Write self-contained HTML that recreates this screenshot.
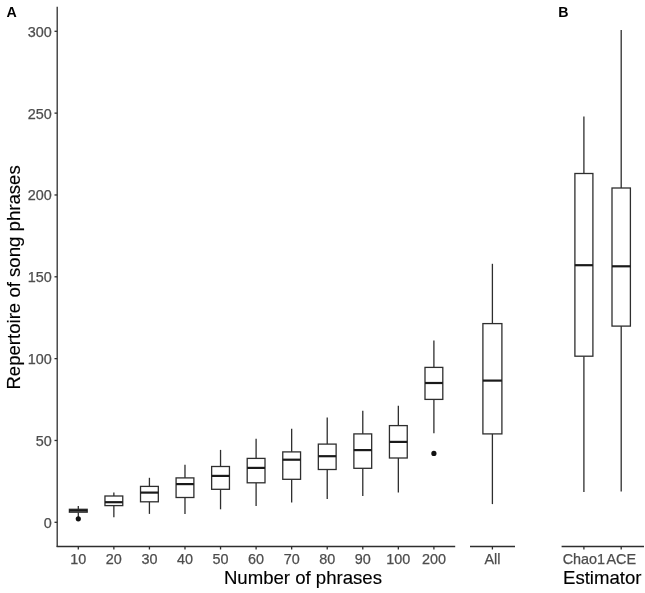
<!DOCTYPE html>
<html><head><meta charset="utf-8"><style>
html,body{margin:0;padding:0;background:#fff;width:645px;height:593px;overflow:hidden}
svg{display:block;will-change:transform}
text{font-family:"Liberation Sans",sans-serif}
.tk{font-size:14.4px;fill:#4d4d4d;stroke:#4d4d4d;stroke-width:0.25px}
.ti{font-size:18.6px;fill:#000;stroke:#000;stroke-width:0.15px}
.tag{font-size:14.2px;font-weight:bold;fill:#000}
</style></head><body>
<svg width="645" height="593" viewBox="0 0 645 593">
<rect width="645" height="593" fill="#fff"/>
<line x1="78.30" y1="506.00" x2="78.30" y2="509.30" stroke="#2e2e2e" stroke-width="1.3" stroke-linecap="butt"/>
<line x1="78.30" y1="512.20" x2="78.30" y2="517.00" stroke="#2e2e2e" stroke-width="1.3" stroke-linecap="butt"/>
<rect x="69.40" y="509.30" width="17.80" height="2.90" fill="#fff" stroke="#2e2e2e" stroke-width="1.3"/>
<line x1="69.40" y1="510.60" x2="87.20" y2="510.60" stroke="#1a1a1a" stroke-width="2.2" stroke-linecap="butt"/>
<circle cx="78.30" cy="518.80" r="2.6" fill="#111"/>
<line x1="113.86" y1="492.50" x2="113.86" y2="496.00" stroke="#2e2e2e" stroke-width="1.3" stroke-linecap="butt"/>
<line x1="113.86" y1="505.60" x2="113.86" y2="517.30" stroke="#2e2e2e" stroke-width="1.3" stroke-linecap="butt"/>
<rect x="104.96" y="496.00" width="17.80" height="9.60" fill="#fff" stroke="#2e2e2e" stroke-width="1.3"/>
<line x1="104.96" y1="502.20" x2="122.76" y2="502.20" stroke="#1a1a1a" stroke-width="2.2" stroke-linecap="butt"/>
<line x1="149.42" y1="477.80" x2="149.42" y2="486.40" stroke="#2e2e2e" stroke-width="1.3" stroke-linecap="butt"/>
<line x1="149.42" y1="501.80" x2="149.42" y2="513.90" stroke="#2e2e2e" stroke-width="1.3" stroke-linecap="butt"/>
<rect x="140.52" y="486.40" width="17.80" height="15.40" fill="#fff" stroke="#2e2e2e" stroke-width="1.3"/>
<line x1="140.52" y1="492.60" x2="158.32" y2="492.60" stroke="#1a1a1a" stroke-width="2.2" stroke-linecap="butt"/>
<line x1="184.98" y1="464.70" x2="184.98" y2="477.90" stroke="#2e2e2e" stroke-width="1.3" stroke-linecap="butt"/>
<line x1="184.98" y1="497.50" x2="184.98" y2="514.00" stroke="#2e2e2e" stroke-width="1.3" stroke-linecap="butt"/>
<rect x="176.08" y="477.90" width="17.80" height="19.60" fill="#fff" stroke="#2e2e2e" stroke-width="1.3"/>
<line x1="176.08" y1="484.10" x2="193.88" y2="484.10" stroke="#1a1a1a" stroke-width="2.2" stroke-linecap="butt"/>
<line x1="220.54" y1="449.90" x2="220.54" y2="466.50" stroke="#2e2e2e" stroke-width="1.3" stroke-linecap="butt"/>
<line x1="220.54" y1="489.30" x2="220.54" y2="509.30" stroke="#2e2e2e" stroke-width="1.3" stroke-linecap="butt"/>
<rect x="211.64" y="466.50" width="17.80" height="22.80" fill="#fff" stroke="#2e2e2e" stroke-width="1.3"/>
<line x1="211.64" y1="475.90" x2="229.44" y2="475.90" stroke="#1a1a1a" stroke-width="2.2" stroke-linecap="butt"/>
<line x1="256.10" y1="438.80" x2="256.10" y2="458.40" stroke="#2e2e2e" stroke-width="1.3" stroke-linecap="butt"/>
<line x1="256.10" y1="482.80" x2="256.10" y2="505.90" stroke="#2e2e2e" stroke-width="1.3" stroke-linecap="butt"/>
<rect x="247.20" y="458.40" width="17.80" height="24.40" fill="#fff" stroke="#2e2e2e" stroke-width="1.3"/>
<line x1="247.20" y1="467.90" x2="265.00" y2="467.90" stroke="#1a1a1a" stroke-width="2.2" stroke-linecap="butt"/>
<line x1="291.66" y1="428.80" x2="291.66" y2="451.90" stroke="#2e2e2e" stroke-width="1.3" stroke-linecap="butt"/>
<line x1="291.66" y1="479.30" x2="291.66" y2="502.40" stroke="#2e2e2e" stroke-width="1.3" stroke-linecap="butt"/>
<rect x="282.76" y="451.90" width="17.80" height="27.40" fill="#fff" stroke="#2e2e2e" stroke-width="1.3"/>
<line x1="282.76" y1="459.70" x2="300.56" y2="459.70" stroke="#1a1a1a" stroke-width="2.2" stroke-linecap="butt"/>
<line x1="327.22" y1="417.60" x2="327.22" y2="444.10" stroke="#2e2e2e" stroke-width="1.3" stroke-linecap="butt"/>
<line x1="327.22" y1="469.50" x2="327.22" y2="498.90" stroke="#2e2e2e" stroke-width="1.3" stroke-linecap="butt"/>
<rect x="318.32" y="444.10" width="17.80" height="25.40" fill="#fff" stroke="#2e2e2e" stroke-width="1.3"/>
<line x1="318.32" y1="456.20" x2="336.12" y2="456.20" stroke="#1a1a1a" stroke-width="2.2" stroke-linecap="butt"/>
<line x1="362.78" y1="410.80" x2="362.78" y2="433.90" stroke="#2e2e2e" stroke-width="1.3" stroke-linecap="butt"/>
<line x1="362.78" y1="468.30" x2="362.78" y2="496.10" stroke="#2e2e2e" stroke-width="1.3" stroke-linecap="butt"/>
<rect x="353.88" y="433.90" width="17.80" height="34.40" fill="#fff" stroke="#2e2e2e" stroke-width="1.3"/>
<line x1="353.88" y1="450.10" x2="371.68" y2="450.10" stroke="#1a1a1a" stroke-width="2.2" stroke-linecap="butt"/>
<line x1="398.34" y1="405.80" x2="398.34" y2="425.60" stroke="#2e2e2e" stroke-width="1.3" stroke-linecap="butt"/>
<line x1="398.34" y1="458.00" x2="398.34" y2="492.40" stroke="#2e2e2e" stroke-width="1.3" stroke-linecap="butt"/>
<rect x="389.44" y="425.60" width="17.80" height="32.40" fill="#fff" stroke="#2e2e2e" stroke-width="1.3"/>
<line x1="389.44" y1="441.90" x2="407.24" y2="441.90" stroke="#1a1a1a" stroke-width="2.2" stroke-linecap="butt"/>
<line x1="433.90" y1="340.40" x2="433.90" y2="367.40" stroke="#2e2e2e" stroke-width="1.3" stroke-linecap="butt"/>
<line x1="433.90" y1="399.40" x2="433.90" y2="433.30" stroke="#2e2e2e" stroke-width="1.3" stroke-linecap="butt"/>
<rect x="425.00" y="367.40" width="17.80" height="32.00" fill="#fff" stroke="#2e2e2e" stroke-width="1.3"/>
<line x1="425.00" y1="383.00" x2="442.80" y2="383.00" stroke="#1a1a1a" stroke-width="2.2" stroke-linecap="butt"/>
<circle cx="433.90" cy="453.40" r="2.6" fill="#111"/>
<line x1="492.40" y1="263.80" x2="492.40" y2="323.60" stroke="#2e2e2e" stroke-width="1.3" stroke-linecap="butt"/>
<line x1="492.40" y1="433.90" x2="492.40" y2="504.10" stroke="#2e2e2e" stroke-width="1.3" stroke-linecap="butt"/>
<rect x="482.90" y="323.60" width="19.00" height="110.30" fill="#fff" stroke="#2e2e2e" stroke-width="1.3"/>
<line x1="482.90" y1="380.60" x2="501.90" y2="380.60" stroke="#1a1a1a" stroke-width="2.2" stroke-linecap="butt"/>
<line x1="583.90" y1="116.50" x2="583.90" y2="173.50" stroke="#2e2e2e" stroke-width="1.3" stroke-linecap="butt"/>
<line x1="583.90" y1="356.20" x2="583.90" y2="492.00" stroke="#2e2e2e" stroke-width="1.3" stroke-linecap="butt"/>
<rect x="574.90" y="173.50" width="18.00" height="182.70" fill="#fff" stroke="#2e2e2e" stroke-width="1.3"/>
<line x1="574.90" y1="265.20" x2="592.90" y2="265.20" stroke="#1a1a1a" stroke-width="2.2" stroke-linecap="butt"/>
<line x1="621.20" y1="30.10" x2="621.20" y2="188.00" stroke="#2e2e2e" stroke-width="1.3" stroke-linecap="butt"/>
<line x1="621.20" y1="326.10" x2="621.20" y2="491.40" stroke="#2e2e2e" stroke-width="1.3" stroke-linecap="butt"/>
<rect x="612.00" y="188.00" width="18.40" height="138.10" fill="#fff" stroke="#2e2e2e" stroke-width="1.3"/>
<line x1="612.00" y1="266.30" x2="630.40" y2="266.30" stroke="#1a1a1a" stroke-width="2.2" stroke-linecap="butt"/>
<line x1="57.20" y1="6.80" x2="57.20" y2="547.05" stroke="#2e2e2e" stroke-width="1.3" stroke-linecap="butt"/>
<line x1="56.65" y1="546.50" x2="455.20" y2="546.50" stroke="#2e2e2e" stroke-width="1.3" stroke-linecap="butt"/>
<line x1="470.00" y1="546.50" x2="515.00" y2="546.50" stroke="#2e2e2e" stroke-width="1.3" stroke-linecap="butt"/>
<line x1="561.60" y1="546.50" x2="644.00" y2="546.50" stroke="#2e2e2e" stroke-width="1.3" stroke-linecap="butt"/>
<line x1="54.50" y1="522.30" x2="57.20" y2="522.30" stroke="#2e2e2e" stroke-width="1.3" stroke-linecap="butt"/>
<text x="51.8" y="527.80" text-anchor="end" class="tk">0</text>
<line x1="54.50" y1="440.47" x2="57.20" y2="440.47" stroke="#2e2e2e" stroke-width="1.3" stroke-linecap="butt"/>
<text x="51.8" y="445.97" text-anchor="end" class="tk">50</text>
<line x1="54.50" y1="358.63" x2="57.20" y2="358.63" stroke="#2e2e2e" stroke-width="1.3" stroke-linecap="butt"/>
<text x="51.8" y="364.13" text-anchor="end" class="tk">100</text>
<line x1="54.50" y1="276.80" x2="57.20" y2="276.80" stroke="#2e2e2e" stroke-width="1.3" stroke-linecap="butt"/>
<text x="51.8" y="282.30" text-anchor="end" class="tk">150</text>
<line x1="54.50" y1="194.97" x2="57.20" y2="194.97" stroke="#2e2e2e" stroke-width="1.3" stroke-linecap="butt"/>
<text x="51.8" y="200.47" text-anchor="end" class="tk">200</text>
<line x1="54.50" y1="113.13" x2="57.20" y2="113.13" stroke="#2e2e2e" stroke-width="1.3" stroke-linecap="butt"/>
<text x="51.8" y="118.63" text-anchor="end" class="tk">250</text>
<line x1="54.50" y1="31.30" x2="57.20" y2="31.30" stroke="#2e2e2e" stroke-width="1.3" stroke-linecap="butt"/>
<text x="51.8" y="36.80" text-anchor="end" class="tk">300</text>
<line x1="78.30" y1="546.50" x2="78.30" y2="549.50" stroke="#2e2e2e" stroke-width="1.3" stroke-linecap="butt"/>
<text x="78.30" y="564.4" text-anchor="middle" class="tk">10</text>
<line x1="113.86" y1="546.50" x2="113.86" y2="549.50" stroke="#2e2e2e" stroke-width="1.3" stroke-linecap="butt"/>
<text x="113.86" y="564.4" text-anchor="middle" class="tk">20</text>
<line x1="149.42" y1="546.50" x2="149.42" y2="549.50" stroke="#2e2e2e" stroke-width="1.3" stroke-linecap="butt"/>
<text x="149.42" y="564.4" text-anchor="middle" class="tk">30</text>
<line x1="184.98" y1="546.50" x2="184.98" y2="549.50" stroke="#2e2e2e" stroke-width="1.3" stroke-linecap="butt"/>
<text x="184.98" y="564.4" text-anchor="middle" class="tk">40</text>
<line x1="220.54" y1="546.50" x2="220.54" y2="549.50" stroke="#2e2e2e" stroke-width="1.3" stroke-linecap="butt"/>
<text x="220.54" y="564.4" text-anchor="middle" class="tk">50</text>
<line x1="256.10" y1="546.50" x2="256.10" y2="549.50" stroke="#2e2e2e" stroke-width="1.3" stroke-linecap="butt"/>
<text x="256.10" y="564.4" text-anchor="middle" class="tk">60</text>
<line x1="291.66" y1="546.50" x2="291.66" y2="549.50" stroke="#2e2e2e" stroke-width="1.3" stroke-linecap="butt"/>
<text x="291.66" y="564.4" text-anchor="middle" class="tk">70</text>
<line x1="327.22" y1="546.50" x2="327.22" y2="549.50" stroke="#2e2e2e" stroke-width="1.3" stroke-linecap="butt"/>
<text x="327.22" y="564.4" text-anchor="middle" class="tk">80</text>
<line x1="362.78" y1="546.50" x2="362.78" y2="549.50" stroke="#2e2e2e" stroke-width="1.3" stroke-linecap="butt"/>
<text x="362.78" y="564.4" text-anchor="middle" class="tk">90</text>
<line x1="398.34" y1="546.50" x2="398.34" y2="549.50" stroke="#2e2e2e" stroke-width="1.3" stroke-linecap="butt"/>
<text x="398.34" y="564.4" text-anchor="middle" class="tk">100</text>
<line x1="433.90" y1="546.50" x2="433.90" y2="549.50" stroke="#2e2e2e" stroke-width="1.3" stroke-linecap="butt"/>
<text x="433.90" y="564.4" text-anchor="middle" class="tk">200</text>
<line x1="492.40" y1="546.50" x2="492.40" y2="549.50" stroke="#2e2e2e" stroke-width="1.3" stroke-linecap="butt"/>
<text x="492.40" y="564.4" text-anchor="middle" class="tk">All</text>
<line x1="583.90" y1="546.50" x2="583.90" y2="549.50" stroke="#2e2e2e" stroke-width="1.3" stroke-linecap="butt"/>
<text x="583.90" y="564.4" text-anchor="middle" class="tk">Chao1</text>
<line x1="621.20" y1="546.50" x2="621.20" y2="549.50" stroke="#2e2e2e" stroke-width="1.3" stroke-linecap="butt"/>
<text x="621.20" y="564.4" text-anchor="middle" class="tk">ACE</text>
<text x="223.9" y="584.2" class="ti">Number of phrases</text>
<text x="563.0" y="584.4" class="ti">Estimator</text>
<text transform="translate(19.5,389.6) rotate(-90)" class="ti">Repertoire of song phrases</text>
<text x="6.6" y="17.1" class="tag">A</text>
<text x="558.2" y="17.1" class="tag">B</text>
</svg>
</body></html>
